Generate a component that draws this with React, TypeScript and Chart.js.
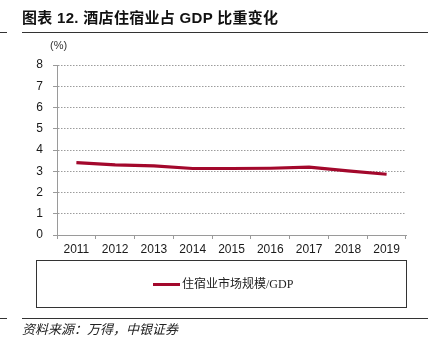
import React, { useEffect, useRef } from "react";
import { Chart, registerables } from "chart.js";

Chart.register(...registerables);

const years = ["2011", "2012", "2013", "2014", "2015", "2016", "2017", "2018", "2019"];
const ratio = [3.41, 3.30, 3.25, 3.13, 3.13, 3.14, 3.19, 3.02, 2.86];
const seriesName = "住宿业市场规模/GDP";
const titleText = "图表 12. 酒店住宿业占 GDP 比重变化";
const sourceText = "资料来源：万得，中银证券";
const unitText = "(%)";

const LINE_COLOR = "#a3082c";

export default function App() {
  const ref = useRef<HTMLCanvasElement | null>(null);

  useEffect(() => {
    if (!ref.current) return;
    const chart = new Chart(ref.current, {
      type: "line",
      data: {
        labels: years,
        datasets: [
          {
            label: seriesName,
            data: ratio,
            borderColor: LINE_COLOR,
            backgroundColor: LINE_COLOR,
            borderWidth: 3.2,
            pointRadius: 0,
            tension: 0,
          },
        ],
      },
      options: {
        animation: false,
        responsive: false,
        maintainAspectRatio: false,
        layout: { padding: { left: 0, top: 65, right: 24, bottom: 97 } },
        plugins: { legend: { display: false }, tooltip: { enabled: false }, title: { display: false } },
        scales: {
          x: {
            offset: true,
            afterFit: (s: any) => { s.height = 20; },
            grid: {
              offset: true,
              drawOnChartArea: false,
              drawTicks: true,
              tickLength: 4,
              color: "#9a9a9a",
            },
            border: { display: true, color: "#9a9a9a", width: 1 },
            ticks: {
              padding: 3,
              color: "#1a1a1a",
              font: { family: "'Liberation Sans', Arial, sans-serif", size: 12 },
              maxRotation: 0,
              autoSkip: false,
            },
          },
          y: {
            min: 0,
            max: 8,
            afterFit: (s: any) => { s.width = 57; },
            grid: {
              color: "#9c9c9c",
              tickColor: "#9a9a9a",
              tickBorderDash: [],
              drawTicks: true,
              tickLength: 4,
              lineWidth: 1,
            },
            border: { display: true, color: "#9a9a9a", width: 1, dash: [1.5, 1.5] },
            ticks: {
              stepSize: 1,
              padding: 10,
              color: "#1a1a1a",
              font: { family: "'Liberation Sans', Arial, sans-serif", size: 12 },
            },
          },
        },
      },
    } as any);
    return () => chart.destroy();
  }, []);

  const base: React.CSSProperties = { position: "absolute", margin: 0, whiteSpace: "nowrap" };

  return (
    <div style={{ position: "fixed", left: 0, top: 0, width: 430, height: 352, background: "#fff", overflow: "hidden" }}>
      <canvas ref={ref} width={430} height={352} style={{ position: "absolute", left: 0, top: 0, width: 430, height: 352 }} />
      <div
        style={{
          ...base,
          left: 22,
          top: 8,
          fontFamily: "'Liberation Sans', 'Noto Sans CJK SC', sans-serif",
          fontWeight: 700,
          fontSize: 15,
          letterSpacing: 0.3,
          lineHeight: "20px",
          color: "#111",
        }}
      >
        {titleText}
      </div>
      <div style={{ ...base, left: 22, top: 32, width: 406, height: 1, background: "#333" }} />
      <div style={{ ...base, left: 0, top: 32, width: 7, height: 1, background: "#333" }} />
      <div
        style={{
          ...base,
          left: 50,
          top: 38,
          fontFamily: "'Liberation Sans', Arial, sans-serif",
          fontSize: 11,
          lineHeight: "14px",
          color: "#333",
        }}
      >
        {unitText}
      </div>
      <div
        style={{
          ...base,
          left: 36,
          top: 260,
          width: 369,
          height: 46,
          border: "1px solid #333",
        }}
      />
      <div style={{ ...base, left: 153, top: 283, width: 27, height: 3, background: LINE_COLOR }} />
      <div
        style={{
          ...base,
          left: 182,
          top: 276,
          fontFamily: "'Liberation Serif', 'Noto Sans CJK SC', serif",
          fontSize: 12,
          lineHeight: "16px",
          color: "#222",
        }}
      >
        {seriesName}
      </div>
      <div style={{ ...base, left: 22, top: 318, width: 406, height: 1, background: "#333" }} />
      <div style={{ ...base, left: 0, top: 318, width: 7, height: 1, background: "#333" }} />
      <div
        style={{
          ...base,
          left: 22,
          top: 321,
          fontFamily: "'Liberation Serif', 'Noto Sans CJK SC', serif",
          fontStyle: "italic",
          fontSize: 13,
          lineHeight: "17px",
          color: "#222",
        }}
      >
        {sourceText}
      </div>
    </div>
  );
}
